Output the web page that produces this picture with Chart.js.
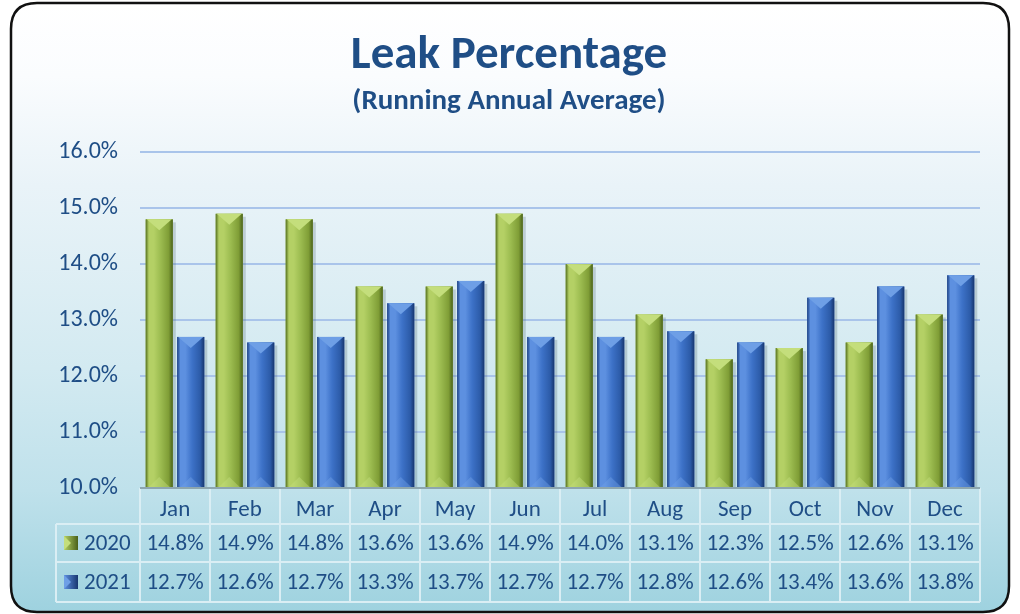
<!DOCTYPE html>
<html>
<head>
<meta charset="utf-8">
<script src="https://cdn.jsdelivr.net/npm/chart.js@4.4.1/dist/chart.umd.min.js"></script>
<style>
  html, body { margin: 0; padding: 0; background: #ffffff; }
  #wrap { width: 1020px; height: 614px; }
</style>
</head>
<body>
<div id="wrap"><canvas id="chart" width="1020" height="614"></canvas></div>
<script>
var MONTHS = ['Jan', 'Feb', 'Mar', 'Apr', 'May', 'Jun', 'Jul', 'Aug', 'Sep', 'Oct', 'Nov', 'Dec'];
var SERIES = ['2020', '2021'];
var LEAK_2020 = [14.8, 14.9, 14.8, 13.6, 13.6, 14.9, 14.0, 13.1, 12.3, 12.5, 12.6, 13.1];
var LEAK_2021 = [12.7, 12.6, 12.7, 13.3, 13.7, 12.7, 12.7, 12.8, 12.6, 13.4, 13.6, 13.8];
var Y_TICKS = [10, 11, 12, 13, 14, 15, 16];

var FONT = 'Carlito, Lato, sans-serif';
var TEXT_BLUE = '#1f4e86';

// bevel colours per series: [edge dark, highlight, mid, shade, edge dark, cap]
var BEVEL = [
    ['#55701f', '#b4d065', '#9cbc50', '#7f9d36', '#4a611b', '#c4de7c'],
    ['#1c3f80', '#5d90e0', '#3d72c8', '#2c5ba8', '#183770', '#6e9fe6']
];

function pct(v) {
    return v.toFixed(1) + '%';
}

// frame + gradient background
var framePlugin = {
    id: 'frame',
    beforeDraw: function (chart) {
        var ctx = chart.ctx;
        var x = 11, y = 3, w = 998, h = 609, r = 26;
        ctx.save();
        var g = ctx.createLinearGradient(0, y, 0, y + h);
        g.addColorStop(0, '#ffffff');
        g.addColorStop(0.12, '#fafcfe');
        g.addColorStop(0.3, '#e9f3f8');
        g.addColorStop(0.6, '#d3eaf1');
        g.addColorStop(0.8, '#bfe1eb');
        g.addColorStop(1, '#9ed2df');
        ctx.beginPath();
        ctx.moveTo(x + r, y);
        ctx.lineTo(x + w - r, y);
        ctx.quadraticCurveTo(x + w, y, x + w, y + r);
        ctx.lineTo(x + w, y + h - r);
        ctx.quadraticCurveTo(x + w, y + h, x + w - r, y + h);
        ctx.lineTo(x + r, y + h);
        ctx.quadraticCurveTo(x, y + h, x, y + h - r);
        ctx.lineTo(x, y + r);
        ctx.quadraticCurveTo(x, y, x + r, y);
        ctx.closePath();
        ctx.fillStyle = g;
        ctx.fill();
        ctx.lineWidth = 2.5;
        ctx.strokeStyle = '#111111';
        ctx.stroke();
        ctx.restore();
    }
};

// bevelled bar look drawn over each bar element
var bevelPlugin = {
    id: 'bevel',
    afterDatasetsDraw: function (chart) {
        var ctx = chart.ctx;
        var area = chart.chartArea;
        chart.data.datasets.forEach(function (ds, di) {
            var meta = chart.getDatasetMeta(di);
            var c = BEVEL[di];
            meta.data.forEach(function (bar) {
                var p = bar.getProps(['x', 'y', 'base', 'width'], true);
                var left = p.x - p.width / 2, right = p.x + p.width / 2;
                var top = p.y, bottom = Math.min(p.base, area.bottom);
                ctx.save();
                // soft shadow to the right
                ctx.fillStyle = 'rgba(60,80,90,0.22)';
                ctx.fillRect(right, top + 3, 3, bottom - top - 3);
                var g = ctx.createLinearGradient(left, 0, right, 0);
                g.addColorStop(0, c[0]);
                g.addColorStop(0.12, c[1]);
                g.addColorStop(0.3, c[1]);
                g.addColorStop(0.55, c[2]);
                g.addColorStop(0.85, c[3]);
                g.addColorStop(1, c[4]);
                ctx.fillStyle = g;
                ctx.fillRect(left, top, p.width, bottom - top);
                // top cap triangle
                var capH = Math.min(11, (bottom - top) / 2);
                ctx.beginPath();
                ctx.moveTo(left + 1, top);
                ctx.lineTo(right - 1, top);
                ctx.lineTo(p.x, top + capH);
                ctx.closePath();
                ctx.fillStyle = c[5];
                ctx.fill();
                // bottom cap
                ctx.beginPath();
                ctx.moveTo(left + 2, bottom);
                ctx.lineTo(right - 2, bottom);
                ctx.lineTo(p.x, bottom - capH);
                ctx.closePath();
                ctx.globalAlpha = 0.45;
                ctx.fill();
                ctx.restore();
            });
        });
    }
};

// data table under the plot, aligned on the x scale
var tablePlugin = {
    id: 'dataTable',
    afterDraw: function (chart) {
        var ctx = chart.ctx;
        var xs = chart.scales.x;
        var area = chart.chartArea;
        var rowTops = [area.bottom, area.bottom + 36, area.bottom + 74, area.bottom + 114];
        var legLeft = 56;
        var edges = [];
        for (var i = 0; i < MONTHS.length; i++) {
            edges.push(xs.getPixelForValue(i) - xs.width / MONTHS.length / 2);
        }
        edges.push(area.right);

        ctx.save();
        ctx.strokeStyle = '#daeef4';
        ctx.lineWidth = 2;
        ctx.beginPath();
        ctx.moveTo(legLeft, rowTops[1]);
        ctx.lineTo(area.right, rowTops[1]);
        ctx.moveTo(legLeft, rowTops[2]);
        ctx.lineTo(area.right, rowTops[2]);
        ctx.moveTo(legLeft, rowTops[3]);
        ctx.lineTo(area.right, rowTops[3]);
        ctx.moveTo(legLeft, rowTops[1]);
        ctx.lineTo(legLeft, rowTops[3]);
        edges.forEach(function (ex) {
            ctx.moveTo(ex, rowTops[0]);
            ctx.lineTo(ex, rowTops[3]);
        });
        ctx.stroke();

        // axis line under the bars
        ctx.strokeStyle = '#8da6ae';
        ctx.lineWidth = 2;
        ctx.beginPath();
        ctx.moveTo(area.left, area.bottom);
        ctx.lineTo(area.right, area.bottom);
        ctx.stroke();

        ctx.font = '23px ' + FONT;
        ctx.fillStyle = TEXT_BLUE;
        ctx.textAlign = 'center';
        ctx.textBaseline = 'middle';
        [LEAK_2020, LEAK_2021].forEach(function (vals, r) {
            var cy = (rowTops[r + 1] + rowTops[r + 2]) / 2;
            vals.forEach(function (v, i) {
                ctx.fillText(pct(v), xs.getPixelForValue(i), cy + 1);
            });
        });

        // legend keys
        ctx.textAlign = 'left';
        SERIES.forEach(function (name, r) {
            var cy = (rowTops[r + 1] + rowTops[r + 2]) / 2;
            var c = BEVEL[r];
            var kx = 64, ky = cy - 7, ks = 14;
            var g = ctx.createLinearGradient(kx, 0, kx + ks, 0);
            g.addColorStop(0, c[1]);
            g.addColorStop(1, c[4]);
            ctx.fillStyle = g;
            ctx.fillRect(kx, ky, ks, ks);
            ctx.beginPath();
            ctx.moveTo(kx, ky);
            ctx.lineTo(kx + ks / 2, ky + ks / 2);
            ctx.lineTo(kx, ky + ks);
            ctx.closePath();
            ctx.fillStyle = c[5];
            ctx.fill();
            ctx.fillStyle = TEXT_BLUE;
            ctx.fillText(name, 84, cy + 1);
        });
        ctx.restore();
    }
};

var ctx = document.getElementById('chart');

new Chart(ctx, {
    type: 'bar',
    data: {
        labels: MONTHS,
        datasets: [{
            label: SERIES[0],
            data: LEAK_2020,
            backgroundColor: '#9cbc50',
            borderWidth: 0
        }, {
            label: SERIES[1],
            data: LEAK_2021,
            backgroundColor: '#3d72c8',
            borderWidth: 0
        }]
    },
    options: {
        responsive: false,
        animation: false,
        events: [],
        layout: {
            padding: { left: 38, right: 40, top: 22, bottom: 0 }
        },
        datasets: {
            bar: {
                categoryPercentage: 0.9,
                barPercentage: 0.86
            }
        },
        plugins: {
            legend: { display: false },
            tooltip: { enabled: false },
            title: {
                display: true,
                text: 'Leak Percentage',
                color: TEXT_BLUE,
                font: { family: FONT, size: 47, weight: 'bold' },
                padding: { top: 6, bottom: 0 }
            },
            subtitle: {
                display: true,
                text: '(Running Annual Average)',
                color: TEXT_BLUE,
                font: { family: FONT, size: 29, weight: 'bold' },
                padding: { top: 0, bottom: 33 }
            }
        },
        scales: {
            x: {
                grid: { display: false },
                border: { display: false },
                ticks: {
                    color: TEXT_BLUE,
                    font: { family: FONT, size: 23 },
                    padding: 0
                },
                afterFit: function (scale) {
                    scale.height = 126;
                }
            },
            y: {
                min: 10,
                max: 16,
                afterBuildTicks: function (scale) {
                    scale.ticks = Y_TICKS.map(function (v) { return { value: v }; });
                },
                grid: {
                    color: '#a9c4ea',
                    lineWidth: 2,
                    drawTicks: false
                },
                border: { display: false },
                ticks: {
                    color: TEXT_BLUE,
                    font: { family: FONT, size: 24 },
                    padding: 22,
                    callback: function (v) { return pct(v); }
                },
                afterFit: function (scale) {
                    scale.width = 102;
                }
            }
        }
    },
    plugins: [framePlugin, bevelPlugin, tablePlugin]
});
</script>
</body>
</html>
